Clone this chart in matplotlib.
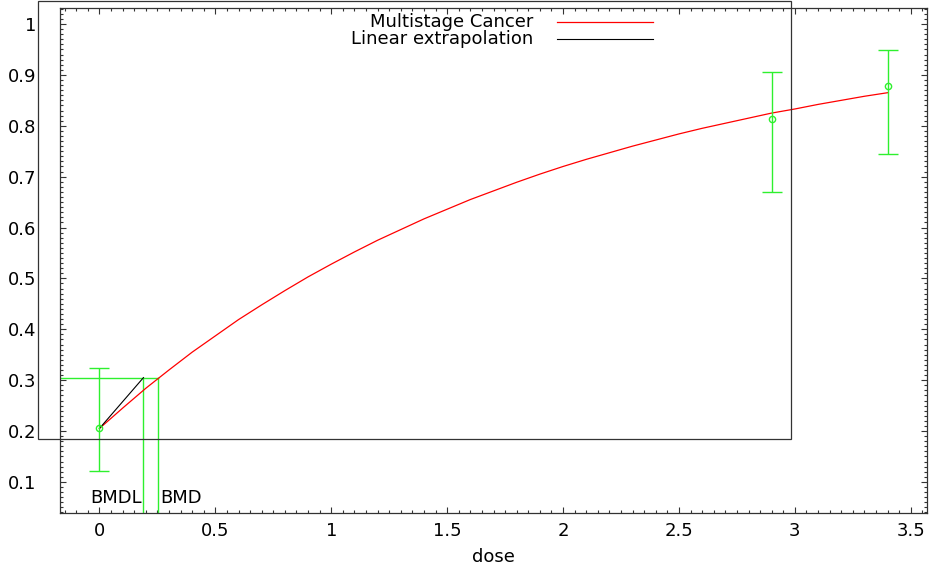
import matplotlib.pyplot as plt
from matplotlib.lines import Line2D
from matplotlib.patches import Rectangle
from matplotlib.ticker import MultipleLocator

# Observed data (dose, response, error bar limits)
dose = [0.0, 2.9, 3.4]
response = [0.205, 0.813, 0.878]
lower = [0.122, 0.669, 0.744]
upper = [0.324, 0.905, 0.949]

# Multistage cancer fit
fit_dose = [0.0, 0.1, 0.2, 0.3, 0.4, 0.5, 0.6, 0.7, 0.8, 0.9, 1.0, 1.1, 1.2,
            1.3, 1.4, 1.5, 1.6, 1.7, 1.8, 1.9, 2.0, 2.1, 2.2, 2.3, 2.4,
            2.5, 2.6, 2.7, 2.8, 2.9, 3.0, 3.1, 3.2, 3.3, 3.4]
fit_resp = [0.205, 0.245, 0.284, 0.320, 0.355, 0.387, 0.419, 0.448, 0.476, 0.503,
            0.528, 0.552, 0.575, 0.596, 0.617, 0.636, 0.655, 0.672, 0.689, 0.705,
            0.720, 0.734, 0.747, 0.760, 0.772, 0.784, 0.795, 0.805, 0.815, 0.825,
            0.833, 0.842, 0.850, 0.858, 0.865]

# Benchmark dose values
bmr = 0.305
bmdl = 0.19
bmd = 0.252

plt.rcParams['font.family'] = ['DejaVu Sans']
green = '#2ef02e'

fig = plt.figure(figsize=(9.32, 5.68), dpi=100)
ax = fig.add_axes([60 / 932, 1 - 512.7 / 568, (927 - 60) / 932, (512.7 - 8) / 568])
ax.set_xlim(-0.17, 3.57)
ax.set_ylim(0.0395, 1.0315)

# fitted curve and linear extrapolation
ax.plot(fit_dose, fit_resp, color='#ff0000', lw=0.9, zorder=3)
ax.plot([dose[0], bmdl], [fit_resp[0], bmr], color='black', lw=0.8, zorder=3)

# BMD / BMDL markers
ax.plot([-0.17, bmd], [bmr, bmr], color=green, lw=1.0)
ax.plot([bmdl, bmdl], [0.0395, bmr], color=green, lw=1.0)
ax.plot([bmd, bmd], [0.0395, bmr], color=green, lw=1.0)
ax.text(bmdl - 0.005, 0.068, 'BMDL', ha='right', va='center', fontsize=13)
ax.text(bmd + 0.01, 0.068, 'BMD', ha='left', va='center', fontsize=13)

# data with error bars
yerr = [[r - lo for r, lo in zip(response, lower)], [hi - r for r, hi in zip(response, upper)]]
ax.errorbar(dose, response, yerr=yerr, fmt='o', color=green, ms=4.5, mfc='none', mew=1.0,
            elinewidth=1.0, capsize=7.5, capthick=1.0, zorder=4)

# axes styling
ax.xaxis.set_major_locator(MultipleLocator(0.5))
ax.xaxis.set_minor_locator(MultipleLocator(0.05))
ax.yaxis.set_major_locator(MultipleLocator(0.1))
ax.yaxis.set_minor_locator(MultipleLocator(0.01))
ax.set_xticks([0, 0.5, 1, 1.5, 2, 2.5, 3, 3.5])
ax.set_xticklabels(['0', '0.5', '1', '1.5', '2', '2.5', '3', '3.5'])
ax.set_yticks([0.1, 0.2, 0.3, 0.4, 0.5, 0.6, 0.7, 0.8, 0.9, 1.0])
ax.set_yticklabels(['0.1', '0.2', '0.3', '0.4', '0.5', '0.6', '0.7', '0.8', '0.9', '1'])
ax.tick_params(which='both', direction='in', top=True, right=True, color='#333333', width=0.8)
ax.tick_params(which='major', length=4)
ax.tick_params(which='minor', length=2)
ax.tick_params(axis='x', which='major', pad=7, labelsize=13)
ax.tick_params(axis='y', which='major', pad=17, labelsize=13)
for s in ax.spines.values():
    s.set_color('#333333')
    s.set_linewidth(0.9)
ax.set_xlabel('dose', fontsize=13, labelpad=5.5)

# key
fig.text(533 / 932, 1 - 21.7 / 568, 'Multistage Cancer', ha='right', va='center', fontsize=13)
fig.text(533 / 932, 1 - 39 / 568, 'Linear extrapolation', ha='right', va='center', fontsize=13)
fig.add_artist(Line2D([557 / 932, 653 / 932], [1 - 21.7 / 568] * 2, color='#ff0000', lw=0.9))
fig.add_artist(Line2D([557 / 932, 653 / 932], [1 - 39 / 568] * 2, color='black', lw=0.8))

# stray key box
fig.add_artist(Rectangle((37.7 / 932, 1 - 439 / 568), (790.7 - 37.7) / 932, (439 - 1.2) / 568,
                         transform=fig.transFigure, fill=False, edgecolor='#333333', lw=0.9))

fig.savefig('out.png', dpi=100)
